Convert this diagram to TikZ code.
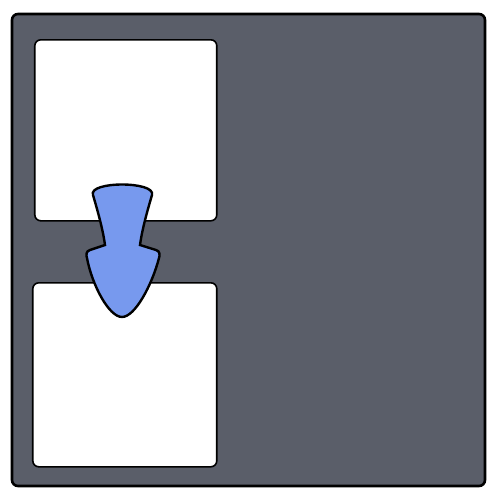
\documentclass[tikz,border=0pt]{standalone}
\usepackage{tikz}
\usetikzlibrary{positioning}
\definecolor{slate}{HTML}{5A5E69}
\definecolor{cornflower}{HTML}{7799EE}
\tikzstyle{every node}+=[inner sep=0pt]
\tikzstyle{frame} = [draw, line width=1.3pt, fill=slate, rounded corners=3pt]
\tikzstyle{panel} = [rectangle, draw, fill=white, line width=0.8pt, rounded corners=3pt, minimum width=91pt, minimum height=90.5pt]
\tikzstyle{marker} = [draw, line width=1.2pt, fill=cornflower]

\begin{document}
\begin{tikzpicture}[x=0.5pt, y=-0.5pt]
            \useasboundingbox (0,0) rectangle (500,500);
            % Place nodes
            \draw [frame] (12,14) rectangle (485,486);
            \node [panel, anchor=north west] (upper) at (34,39) {};
            \node [panel, anchor=north west, minimum width=92pt, minimum height=92pt] (lower) at (32,282) {};
            % Draw marker
            \path [marker] (93,195) .. controls (88,181) and (156,181) .. (152,195)
              .. controls (147,212) and (142,230) .. (140,245)
              -- (156,250) .. controls (160,251) and (160,255) .. (159,258)
              .. controls (152,285) and (135,317) .. (122,317)
              .. controls (109,317) and (92,285) .. (87,258)
              .. controls (86,255) and (86,251) .. (90,250)
              -- (105,245) .. controls (103,230) and (98,212) .. cycle;
          \end{tikzpicture}
\end{document}
